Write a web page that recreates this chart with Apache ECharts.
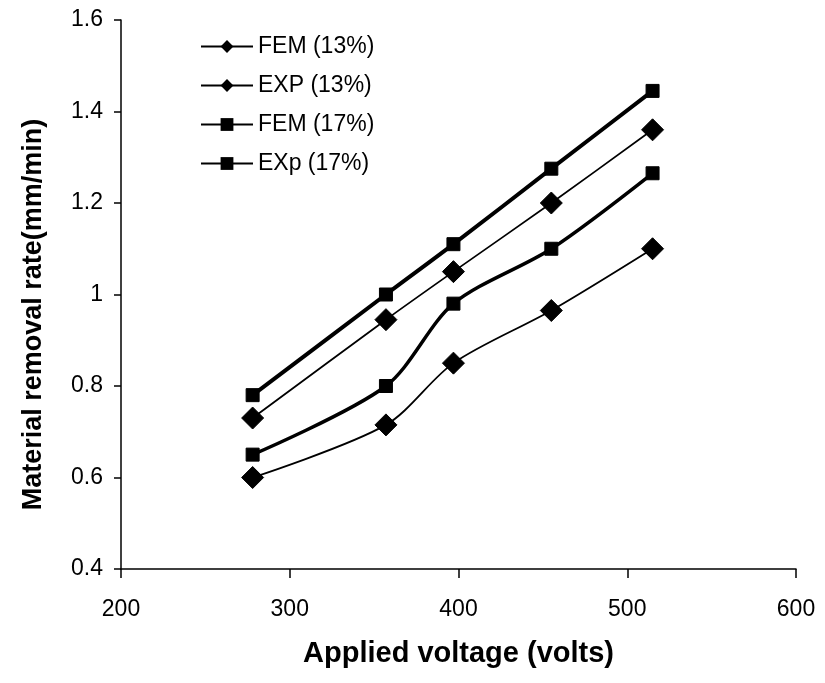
<!DOCTYPE html>
<html>
<head>
<meta charset="utf-8">
<script src="https://cdn.jsdelivr.net/npm/echarts@6/dist/echarts.min.js"></script>
<style>html,body{margin:0;padding:0;background:#fff}#c{width:825px;height:683px}</style>
</head>
<body>
<div id="c"></div>
<script>
var voltage = [278, 357, 397, 455, 515];
var femThirteen = [0.60, 0.715, 0.85, 0.965, 1.10];
var expThirteen = [0.73, 0.945, 1.05, 1.20, 1.36];
var femSeventeen = [0.65, 0.80, 0.98, 1.10, 1.265];
var expSeventeen = [0.78, 1.00, 1.11, 1.275, 1.445];
var seriesNames = ['FEM (13%)', 'EXP (13%)', 'FEM (17%)', 'EXp (17%)'];
var xTicks = [200, 300, 400, 500, 600];
var yTicks = [0.4, 0.6, 0.8, 1.0, 1.2, 1.4, 1.6];

function pairs(vals){ return voltage.map(function(v,i){ return [v, vals[i]]; }); }

var chart = echarts.init(document.getElementById('c'));
var font = '"Liberation Sans", Arial, sans-serif';
function mk(name, vals, width, symbol, size){
  return {
    name: name, type: 'line', data: pairs(vals), smooth: 0.3,
    symbol: symbol, symbolSize: size, showSymbol: true,
    lineStyle: {color: '#000', width: width},
    itemStyle: {color: '#000', borderColor: '#000'},
    emphasis: {disabled: true}, z: 3
  };
}
chart.setOption({
  animation: false,
  backgroundColor: '#fff',
  grid: {left: 121, right: 29, top: 20, bottom: 114},
  legend: {
    left: 195, top: 30, orient: 'vertical', itemGap: 16,
    itemWidth: 52, itemHeight: 16,
    data: seriesNames,
    textStyle: {fontFamily: font, fontSize: 23, color: '#000'}
  },
  xAxis: {
    type: 'value', min: 200, max: 600, interval: 100,
    name: 'Applied voltage (volts)', nameLocation: 'middle', nameGap: 70,
    nameTextStyle: {fontFamily: font, fontSize: 29, fontWeight: 'bold', color: '#000'},
    axisLine: {show: true, lineStyle: {color: '#000', width: 1.5}},
    axisTick: {show: true, length: 9, inside: false, lineStyle: {color: '#000', width: 1.5}},
    axisLabel: {fontFamily: font, fontSize: 23, color: '#000', margin: 29,
      formatter: function(v){ return xTicks.indexOf(v) >= 0 ? String(v) : ''; }},
    splitLine: {show: false}
  },
  yAxis: {
    type: 'value', min: 0.4, max: 1.6, interval: 0.2,
    name: 'Material removal rate(mm/min)', nameLocation: 'middle', nameGap: 74, nameRotate: 90,
    nameTextStyle: {fontFamily: font, fontSize: 27, fontWeight: 'bold', color: '#000', padding: [0, 40, 0, 0]},
    axisLine: {show: true, lineStyle: {color: '#000', width: 1.5}},
    axisTick: {show: true, length: 7, inside: false, lineStyle: {color: '#000', width: 1.5}},
    axisLabel: {fontFamily: font, fontSize: 23, color: '#000', margin: 18,
      formatter: function(v){
        var r = Math.round(v*10)/10;
        return yTicks.indexOf(r) < 0 ? '' : (r === 1 ? '1' : r.toFixed(1));
      }},
    splitLine: {show: false}
  },
  series: [
    mk(seriesNames[0], femThirteen, 1.8, 'diamond', 22),
    mk(seriesNames[1], expThirteen, 1.8, 'diamond', 22),
    mk(seriesNames[2], femSeventeen, 3.5, 'rect', 13),
    mk(seriesNames[3], expSeventeen, 4, 'rect', 13)
  ]
});
</script>
</body>
</html>
